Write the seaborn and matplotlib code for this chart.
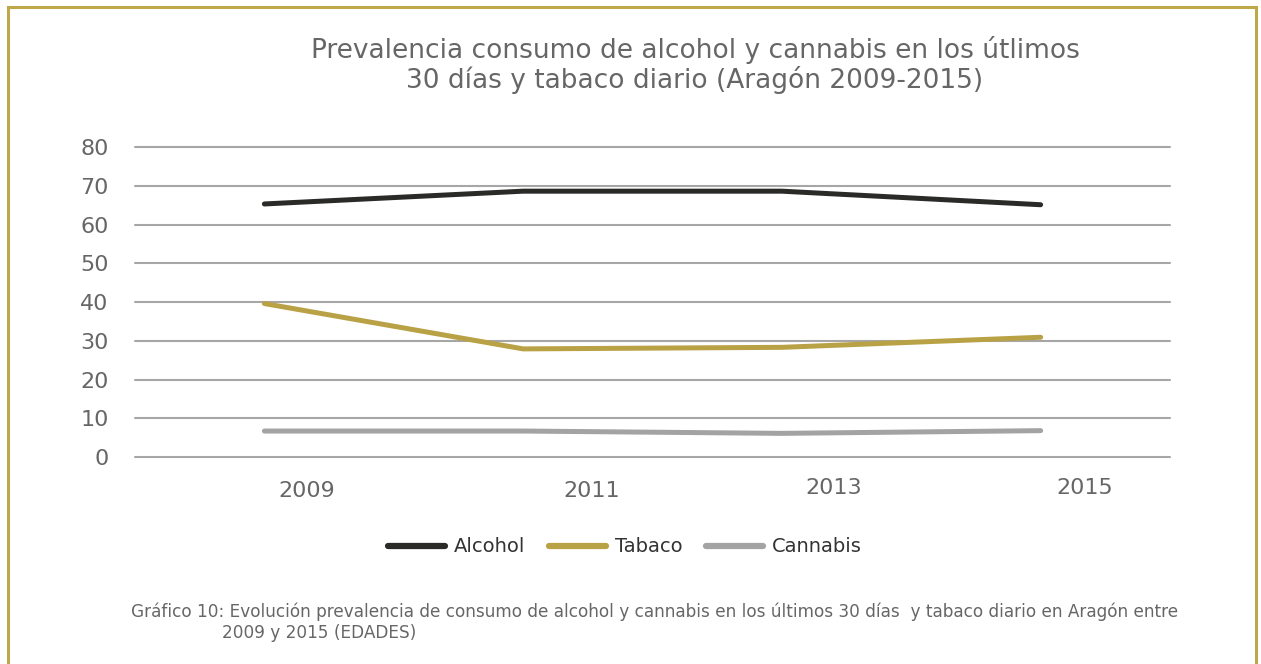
"""Prevalencia consumo de alcohol, tabaco y cannabis (Aragón 2009-2015)."""

import matplotlib
matplotlib.use("Agg")
import matplotlib.pyplot as plt
import matplotlib.transforms as mtransforms
from matplotlib.patches import Rectangle
import pandas as pd
import seaborn as sns

YEARS = ["2009", "2011", "2013", "2015"]
ALCOHOL = [65.3, 68.6, 68.6, 65.1]
TABACO = [39.6, 27.9, 28.3, 30.9]
CANNABIS = [6.7, 6.7, 6.1, 6.8]
SERIES = ["Alcohol", "Tabaco", "Cannabis"]
COLORS = ["#2a2a28", "#b9a246", "#a3a3a3"]

TEXT = "#666666"
GRID = "#a6a6a6"
BORDER = "#bfa84a"

df = pd.DataFrame({
    "year": YEARS * 3,
    "value": ALCOHOL + TABACO + CANNABIS,
    "serie": [s for s in SERIES for _ in YEARS],
})

sns.set_theme(style="white")
plt.rcParams["font.family"] = ["DejaVu Sans"]

fig = plt.figure(figsize=(12.61, 6.64), dpi=100)
ax = fig.add_axes([135 / 1261, 1 - 457 / 664, (1170 - 135) / 1261, (457 - 147) / 664])

sns.lineplot(data=df, x="year", y="value", hue="serie", hue_order=SERIES,
             palette=COLORS, linewidth=3.6, sort=False, ax=ax, legend=False,
             solid_capstyle="round")

ax.set_xlim(-0.5, 3.5)
ax.set_ylim(0, 80)
ax.set_yticks(range(0, 81, 10))
ax.yaxis.grid(True, color=GRID, linewidth=1.5)
ax.set_axisbelow(True)
for gl in ax.get_ygridlines():
    gl.set_clip_on(False)
for s in ax.spines.values():
    s.set_visible(False)
ax.set_xlabel("")
ax.set_ylabel("")
ax.tick_params(axis="y", length=0, pad=19, labelsize=16, labelcolor=TEXT)
ax.tick_params(axis="x", length=0, pad=17, labelsize=16, labelcolor=TEXT)
ax.set_xticks(range(len(YEARS)))
ax.set_xticklabels(YEARS)

# the year labels sit off-centre in the original
shifts = [(42, 0), (69, 0), (52, 3), (44, 3)]
for lab, (dx, dy) in zip(ax.get_xticklabels(), shifts):
    off = mtransforms.ScaledTranslation(dx / 100, dy / 100, fig.dpi_scale_trans)
    lab.set_transform(lab.get_transform() + off)

fig.text(695 / 1261, 1 - 50 / 664,
         "Prevalencia consumo de alcohol y cannabis en los útlimos",
         ha="center", va="center", fontsize=19, color=TEXT)
fig.text(695 / 1261, 1 - 80 / 664,
         "30 días y tabaco diario (Aragón 2009-2015)",
         ha="center", va="center", fontsize=19, color=TEXT)

handles = [plt.Line2D([], [], color=c, linewidth=4.5) for c in COLORS]
fig.legend(handles, SERIES, loc="center", bbox_to_anchor=(625 / 1261, 1 - 547 / 664),
           ncol=3, frameon=False, fontsize=14, handlelength=2.95,
           handletextpad=0.45, columnspacing=1.2, labelcolor="#333333")

fig.text(131 / 1261, 1 - 612 / 664,
         "Gráfico 10: Evolución prevalencia de consumo de alcohol y cannabis en los últimos 30 días  y tabaco diario en Aragón entre",
         ha="left", va="center", fontsize=12.2, color=TEXT)
fig.text(222 / 1261, 1 - 633 / 664, "2009 y 2015 (EDADES)",
         ha="left", va="center", fontsize=12.2, color=TEXT)

fig.patches.append(Rectangle((8 / 1261, -0.1), (1256 - 8) / 1261, 1.1 - 7 / 664,
                             transform=fig.transFigure, fill=False,
                             edgecolor=BORDER, linewidth=2.2))

fig.savefig("out.png", dpi=100)
